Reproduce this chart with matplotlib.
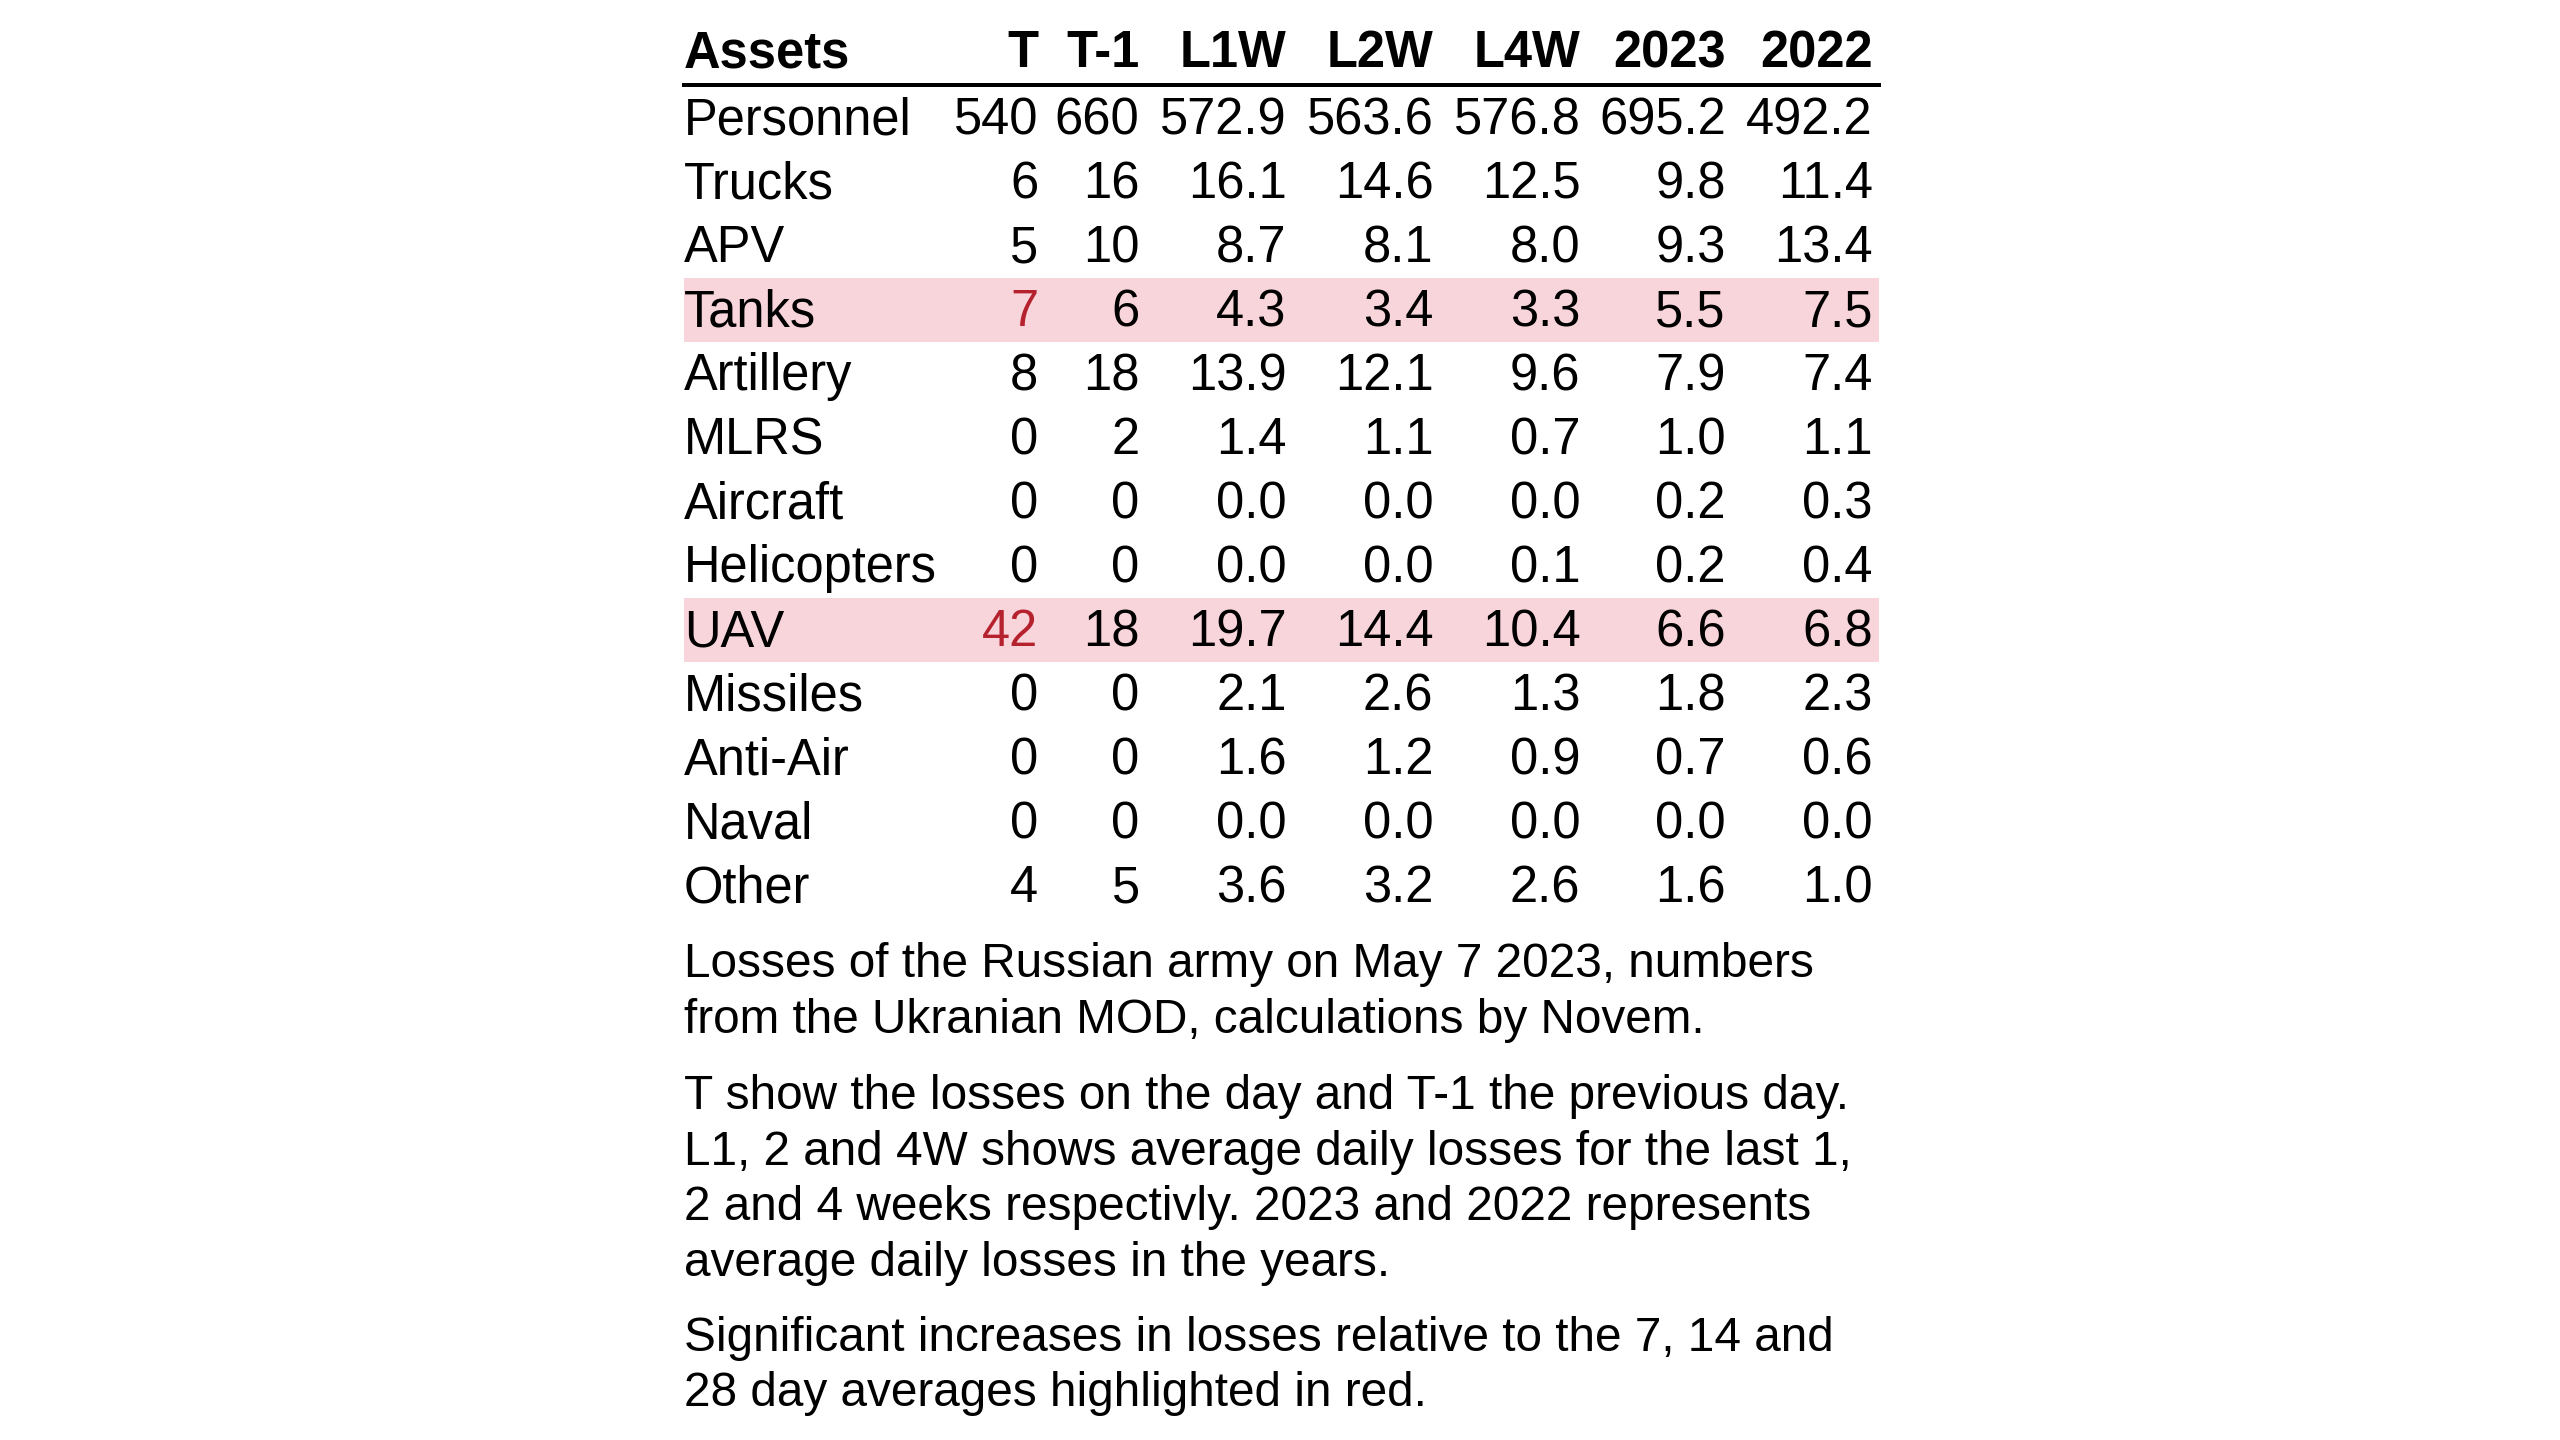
import matplotlib.pyplot as plt
from matplotlib.patches import Rectangle

columns = ["Assets", "T", "T-1", "L1W", "L2W", "L4W", "2023", "2022"]
assets = ["Personnel", "Trucks", "APV", "Tanks", "Artillery", "MLRS", "Aircraft",
          "Helicopters", "UAV", "Missiles", "Anti-Air", "Naval", "Other"]
t_today = ["540", "6", "5", "7", "8", "0", "0", "0", "42", "0", "0", "0", "4"]
t_prev = ["660", "16", "10", "6", "18", "2", "0", "0", "18", "0", "0", "0", "5"]
l1w = ["572.9", "16.1", "8.7", "4.3", "13.9", "1.4", "0.0", "0.0", "19.7", "2.1", "1.6", "0.0", "3.6"]
l2w = ["563.6", "14.6", "8.1", "3.4", "12.1", "1.1", "0.0", "0.0", "14.4", "2.6", "1.2", "0.0", "3.2"]
l4w = ["576.8", "12.5", "8.0", "3.3", "9.6", "0.7", "0.0", "0.1", "10.4", "1.3", "0.9", "0.0", "2.6"]
y2023 = ["695.2", "9.8", "9.3", "5.5", "7.9", "1.0", "0.2", "0.2", "6.6", "1.8", "0.7", "0.0", "1.6"]
y2022 = ["492.2", "11.4", "13.4", "7.5", "7.4", "1.1", "0.3", "0.4", "6.8", "2.3", "0.6", "0.0", "1.0"]
highlight = ["Tanks", "UAV"]

notes = [
    "Losses of the Russian army on May 7 2023, numbers\nfrom the Ukranian MOD, calculations by Novem.",
    "T show the losses on the day and T-1 the previous day.\nL1, 2 and 4W shows average daily losses for the last 1,\n2 and 4 weeks respectivly. 2023 and 2022 represents\naverage daily losses in the years.",
    "Significant increases in losses relative to the 7, 14 and\n28 day averages highlighted in red.",
]

W, H = 1568, 882
fig = plt.figure(figsize=(16, 9), dpi=160)
plt.rcParams['font.family'] = ['Liberation Sans', 'DejaVu Sans']

def fx(x):
    return x / W

def fy(y):
    return 1 - y / H

left, right = 419, 1151
col_right = [636, 698, 788, 878, 968, 1057, 1147]
row_h = 39.2
y0 = 74
fs = 22.8

# header
fig.text(fx(left), fy(33), columns[0], fontsize=fs, fontweight='bold', va='center')
for c, xr in zip(columns[1:], col_right):
    fig.text(fx(xr), fy(33), c, fontsize=fs, fontweight='bold', va='center', ha='right')
fig.add_artist(plt.Line2D([fx(left), fx(right)], [fy(52), fy(52)], color='black', lw=1.8))

data_cols = [t_today, t_prev, l1w, l2w, l4w, y2023, y2022]
for i, name in enumerate(assets):
    yc = y0 + i * row_h
    if name in highlight:
        fig.add_artist(Rectangle((fx(left), fy(yc - 2 + row_h / 2)), fx(right - left), row_h / H,
                                 transform=fig.transFigure, color='#f7d5da', lw=0, zorder=0))
    fig.text(fx(left), fy(yc), name, fontsize=fs, va='center')
    for j, (col, xr) in enumerate(zip(data_cols, col_right)):
        color = '#b5222e' if (name in highlight and j == 0) else 'black'
        fig.text(fx(xr), fy(yc), col[i], fontsize=fs, va='center', ha='right', color=color)

note_tops = [577, 658, 806]
for top, note in zip(note_tops, notes):
    fig.text(fx(left), fy(top), note, fontsize=21.5, va='top', linespacing=1.3)

fig.savefig("out.png", dpi=160)
